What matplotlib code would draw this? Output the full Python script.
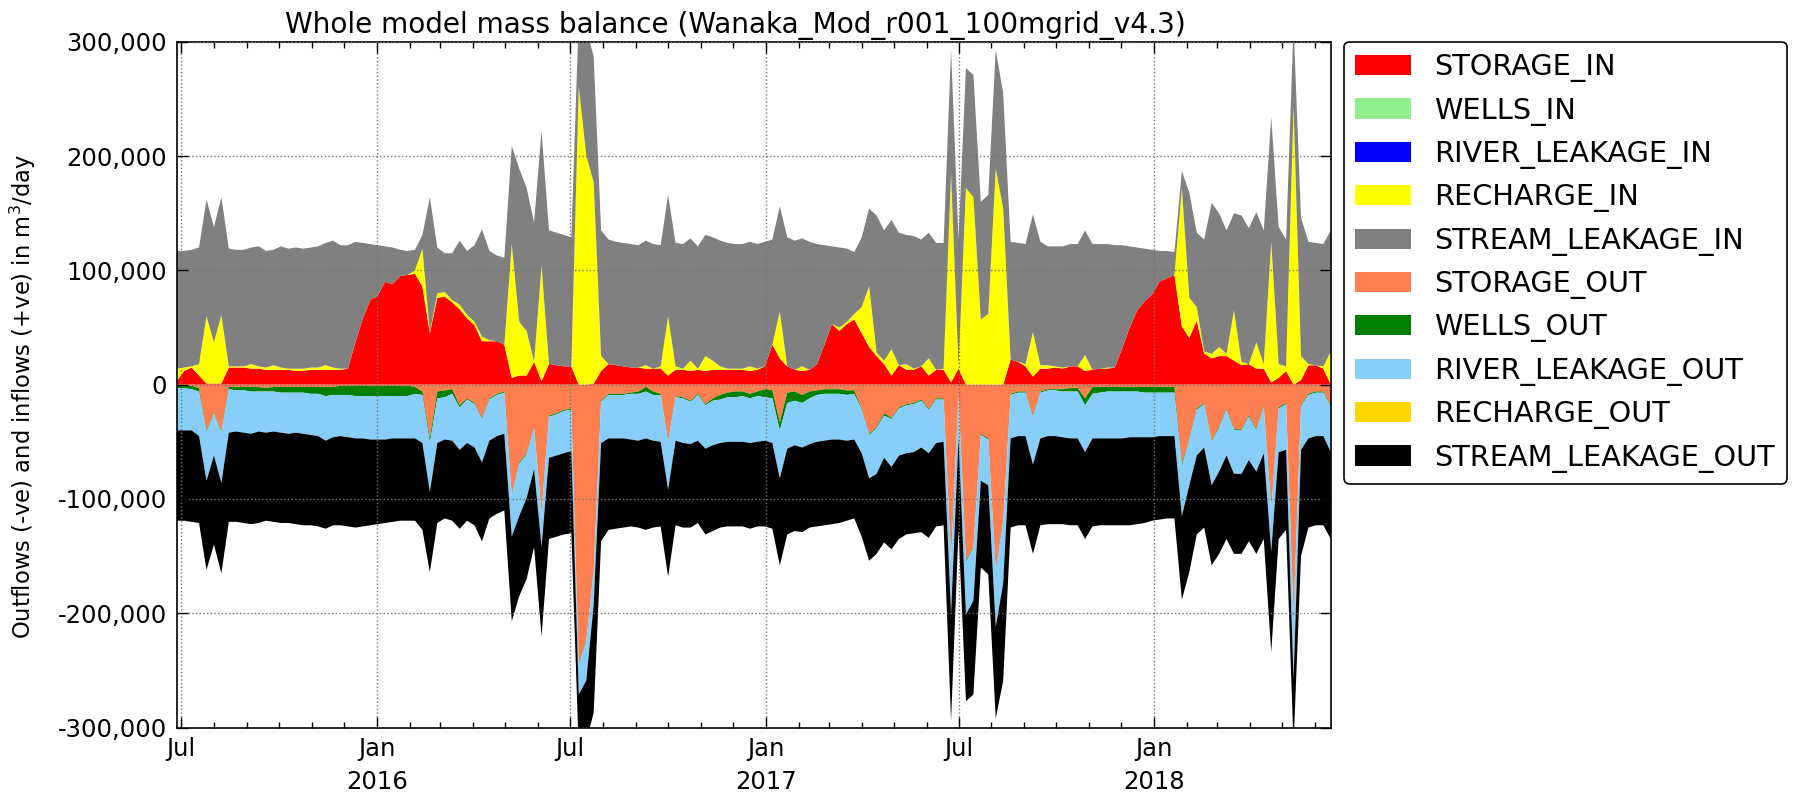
import numpy as np
import pandas as pd
import matplotlib
matplotlib.use("Agg")
from matplotlib import pyplot as plt
import matplotlib.dates as mdates
from matplotlib.ticker import FuncFormatter, MultipleLocator

# weekly stress periods, Jun 2015 - Jun 2018
dates = pd.date_range("2015-06-27", periods=156, freq="7D")

# flows in thousand m3/day
storage_in = [3, 12, 15, 8, 1, 1, 1, 15, 15, 15,
              14, 14, 13, 13, 13, 13, 12, 12, 13, 13,
              13, 13, 13, 14, 37, 58, 74, 78, 90, 88,
              95, 96, 97, 86, 45, 76, 77, 72, 66, 58,
              52, 38, 38, 38, 35, 6, 8, 8, 20, 3,
              18, 17, 16, 16, 0, 0, 1, 12, 18, 17,
              16, 15, 15, 14, 14, 14, 8, 13, 13, 12,
              13, 12, 13, 13, 13, 13, 13, 12, 13, 16,
              35, 23, 16, 13, 12, 13, 18, 35, 53, 47,
              53, 57, 45, 33, 25, 18, 8, 17, 13, 13,
              16, 8, 13, 13, 2, 14, 0, 0, 0, 0,
              0, 0, 22, 20, 16, 7, 14, 14, 15, 14,
              16, 16, 12, 13, 14, 14, 15, 32, 50, 65,
              73, 79, 90, 93, 96, 51, 41, 56, 27, 23,
              25, 25, 21, 17, 18, 14, 14, 2, 6, 12,
              0, 4, 17, 17, 14, 0]
recharge_in = [11, 3, 1, 10, 59, 36, 60, 1, 1, 1,
               4, 2, 2, 4, 2, 1, 2, 2, 2, 2,
               4, 2, 1, 0, 0, 0, 0, 0, 0, 0,
               0, 0, 3, 33, 1, 4, 4, 2, 4, 3,
               3, 4, 1, 0, 0, 117, 47, 39, 0, 101,
               0, 0, 0, 0, 261, 201, 176, 13, 0, 0,
               0, 0, 0, 3, 0, 2, 52, 3, 1, 9,
               1, 13, 8, 3, 1, 1, 1, 4, 1, 0,
               0, 41, 0, 0, 4, 0, 0, 0, 0, 3,
               2, 5, 23, 53, 3, 3, 23, 0, 5, 1,
               0, 15, 0, 1, 183, 1, 172, 164, 57, 62,
               189, 154, 0, 0, 2, 39, 3, 3, 1, 1,
               0, 0, 14, 0, 0, 1, 0, 0, 0, 0,
               0, 0, 0, 0, 0, 121, 35, 12, 2, 4,
               8, 2, 44, 3, 0, 23, 4, 123, 12, 4,
               244, 21, 1, 0, 2, 29]
stream_in = [103, 102, 102, 102, 102, 101, 103, 103, 102, 102,
             102, 105, 102, 101, 106, 105, 106, 105, 105, 106,
             107, 111, 108, 108, 88, 66, 49, 44, 31, 32,
             23, 21, 18, 12, 118, 40, 34, 41, 56, 56,
             67, 94, 78, 75, 76, 86, 134, 125, 122, 118,
             117, 116, 115, 113, 61, 111, 110, 110, 109, 108,
             108, 108, 107, 109, 109, 106, 106, 108, 109, 107,
             107, 106, 108, 110, 110, 109, 109, 109, 109, 109,
             92, 92, 113, 113, 112, 112, 105, 87, 68, 70,
             64, 54, 61, 68, 120, 114, 113, 116, 113, 116,
             111, 110, 111, 110, 108, 112, 105, 107, 103, 104,
             104, 101, 103, 104, 105, 103, 108, 104, 105, 106,
             107, 107, 109, 110, 109, 108, 107, 90, 71, 55,
             46, 39, 27, 24, 20, 15, 92, 65, 98, 132,
             117, 108, 85, 128, 119, 114, 117, 109, 120, 111,
             71, 121, 107, 107, 107, 106]
storage_out = [1, 1, 1, 3, 41, 24, 41, 2, 2, 2,
               2, 2, 3, 2, 2, 2, 2, 2, 2, 2,
               2, 2, 1, 1, 1, 1, 1, 1, 1, 1,
               1, 1, 2, 6, 47, 6, 5, 4, 18, 12,
               16, 29, 12, 8, 6, 96, 68, 60, 37, 111,
               27, 25, 22, 21, 244, 224, 162, 14, 8, 8,
               8, 7, 6, 2, 6, 8, 49, 10, 11, 14,
               8, 17, 12, 9, 7, 6, 6, 8, 6, 4,
               5, 33, 7, 6, 9, 6, 5, 4, 4, 4,
               5, 5, 21, 43, 37, 25, 29, 20, 17, 16,
               13, 21, 12, 12, 152, 8, 154, 142, 43, 47,
               162, 119, 8, 6, 6, 27, 6, 4, 4, 4,
               3, 3, 12, 2, 2, 2, 2, 2, 2, 2,
               2, 2, 2, 2, 2, 70, 47, 21, 16, 49,
               37, 21, 39, 39, 27, 39, 18, 109, 20, 16,
               200, 18, 8, 6, 6, 18]
wells_out = [2, 2, 3, 3, 1, 1, 1, 2, 3, 3,
             4, 4, 3, 4, 5, 5, 5, 5, 6, 6,
             8, 7, 8, 8, 9, 9, 9, 9, 9, 9,
             9, 9, 6, 3, 4, 6, 6, 4, 2, 1,
             1, 1, 1, 1, 1, 1, 1, 1, 1, 1,
             1, 1, 1, 1, 1, 1, 1, 1, 1, 1,
             1, 1, 2, 4, 3, 1, 1, 1, 1, 1,
             1, 1, 2, 4, 4, 5, 4, 4, 4, 7,
             7, 7, 9, 8, 7, 6, 4, 4, 4, 4,
             4, 3, 1, 1, 1, 2, 1, 1, 1, 1,
             1, 1, 1, 1, 2, 1, 1, 1, 1, 1,
             1, 1, 1, 1, 1, 1, 1, 1, 1, 2,
             3, 3, 6, 6, 5, 4, 4, 4, 4, 4,
             5, 5, 5, 5, 5, 2, 1, 1, 1, 1,
             1, 1, 1, 1, 1, 1, 1, 1, 1, 1,
             1, 1, 1, 1, 1, 1]
river_out = [37, 37, 36, 39, 42, 37, 44, 38, 36, 37,
             37, 35, 36, 35, 35, 36, 35, 36, 36, 37,
             39, 37, 36, 37, 37, 37, 38, 38, 38, 37,
             37, 37, 39, 42, 43, 39, 37, 41, 37, 38,
             38, 38, 36, 36, 36, 36, 46, 38, 36, 30,
             36, 36, 37, 36, 26, 34, 30, 36, 38, 38,
             38, 40, 41, 41, 40, 41, 42, 38, 39, 37,
             40, 38, 39, 38, 39, 39, 40, 39, 40, 38,
             39, 42, 40, 39, 39, 40, 41, 41, 40, 40,
             40, 40, 38, 38, 40, 37, 42, 41, 42, 42,
             41, 38, 38, 37, 47, 38, 46, 46, 40, 40,
             49, 54, 38, 38, 38, 42, 40, 40, 40, 40,
             41, 41, 41, 39, 40, 41, 41, 41, 40, 40,
             39, 39, 38, 38, 38, 43, 40, 40, 38, 38,
             38, 40, 38, 38, 38, 36, 41, 36, 38, 40,
             57, 38, 38, 38, 38, 40]
stream_out = [79, 79, 80, 76, 78, 78, 79, 78, 79, 79,
              79, 80, 77, 79, 79, 78, 80, 80, 79, 79,
              77, 77, 78, 78, 78, 77, 75, 74, 73, 73,
              72, 72, 72, 76, 70, 70, 69, 70, 69, 68,
              68, 69, 68, 68, 67, 74, 70, 71, 68, 78,
              71, 71, 71, 72, 49, 53, 94, 86, 80, 79,
              78, 76, 76, 80, 76, 74, 76, 74, 74, 73,
              72, 75, 75, 74, 74, 74, 74, 75, 74, 75,
              75, 76, 75, 75, 74, 73, 74, 74, 74, 73,
              70, 69, 73, 72, 70, 74, 72, 73, 71, 71,
              74, 74, 73, 73, 93, 80, 76, 82, 76, 78,
              80, 85, 78, 78, 78, 78, 76, 77, 77, 76,
              76, 76, 76, 77, 76, 76, 76, 76, 77, 76,
              75, 73, 73, 72, 72, 73, 76, 69, 70, 70,
              72, 73, 70, 70, 71, 72, 75, 88, 76, 70,
              57, 93, 78, 78, 78, 76]
# these terms are zero for the whole run
wells_in = [0] * len(dates)
river_in = [0] * len(dates)
recharge_out = [0] * len(dates)

in_labels = ["STORAGE_IN", "WELLS_IN", "RIVER_LEAKAGE_IN", "RECHARGE_IN", "STREAM_LEAKAGE_IN"]
in_colors = ["red", "lightgreen", "blue", "yellow", "grey"]
out_labels = ["STORAGE_OUT", "WELLS_OUT", "RIVER_LEAKAGE_OUT", "RECHARGE_OUT", "STREAM_LEAKAGE_OUT"]
out_colors = ["coral", "green", "lightskyblue", "gold", "black"]

ins = [storage_in, wells_in, river_in, recharge_in, stream_in]
outs = [storage_out, wells_out, river_out, recharge_out, stream_out]
ins = [np.array(s) * 1000.0 for s in ins]
outs = [-np.array(s) * 1000.0 for s in outs]

fig = plt.figure(figsize=(17.94, 7.92), dpi=100)
ax = fig.add_axes([0.0985, 0.0813, 0.6433, 0.866])

ax.stackplot(dates, *ins, colors=in_colors, labels=in_labels, linewidth=0)
ax.stackplot(dates, *outs, colors=out_colors, labels=out_labels, linewidth=0)

ax.set_xlim(dates[0], dates[-1])
ax.set_ylim(-300000, 300000)
ax.yaxis.set_major_locator(MultipleLocator(100000))
ax.yaxis.set_major_formatter(FuncFormatter(lambda v, p: "{:,.0f}".format(v)))


def date_fmt(v, p):
    d = mdates.num2date(v)
    if d.month == 1:
        return "Jan\n%d" % d.year
    return d.strftime("%b")


ax.xaxis.set_major_locator(mdates.MonthLocator(bymonth=[1, 7]))
ax.xaxis.set_major_formatter(FuncFormatter(date_fmt))
ax.xaxis.set_minor_locator(mdates.MonthLocator())

ax.tick_params(which="both", direction="in", top=True, right=True, labelsize=17.5)
ax.tick_params(which="major", length=8, width=1, pad=7)
ax.tick_params(which="minor", length=4, width=1)
ax.grid(True, which="major", linestyle=":", color="0.45", linewidth=1)
ax.set_axisbelow(False)
for sp in ax.spines.values():
    sp.set_linewidth(1.2)
for lab in ax.get_xticklabels():
    lab.set_linespacing(1.45)

ax.set_title("Whole model mass balance (Wanaka_Mod_r001_100mgrid_v4.3)",
             fontsize=20.2, x=0.484)
ax.set_ylabel("Outflows (-ve) and inflows (+ve) in m$^3$/day", fontsize=16.3)
ax.yaxis.set_label_coords(-0.12, 0.483)

leg = ax.legend(loc="upper left", bbox_to_anchor=(1.0113, 1.0), borderaxespad=0,
                fontsize=20.7, handlelength=1.92, handletextpad=0.83, labelspacing=0.5,
                fancybox=True, edgecolor="black", framealpha=1)
leg.get_frame().set_linewidth(1.2)

fig.savefig("out.png", dpi=100)
